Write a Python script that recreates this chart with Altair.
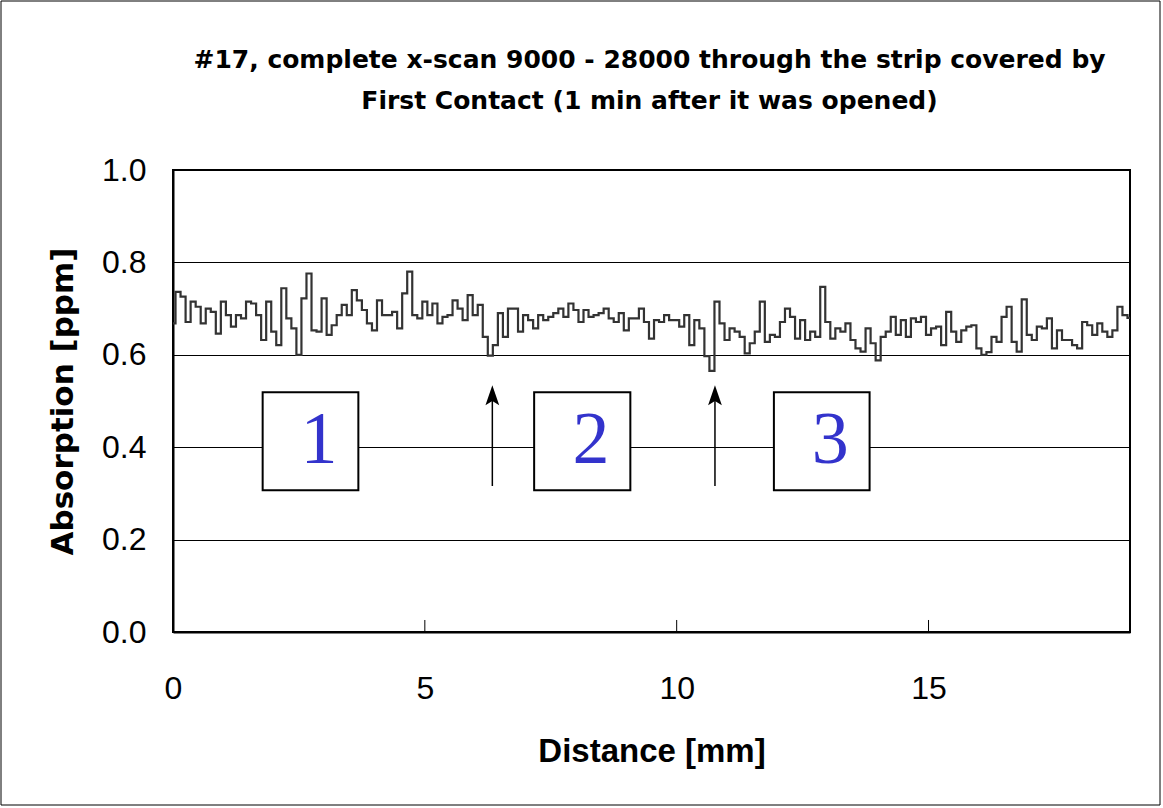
import altair as alt
import pandas as pd

# ---- data ----
absorption = [
    0.668, 0.736, 0.726, 0.671, 0.715, 0.704, 0.668, 0.700, 0.693, 0.646,
    0.715, 0.686, 0.661, 0.686, 0.679, 0.715, 0.711, 0.686, 0.632, 0.715,
    0.650, 0.621, 0.744, 0.679, 0.657, 0.600, 0.722, 0.776, 0.653, 0.650,
    0.722, 0.643, 0.664, 0.686, 0.708, 0.686, 0.740, 0.718, 0.697, 0.668,
    0.653, 0.718, 0.686, 0.686, 0.693, 0.657, 0.733, 0.780, 0.686, 0.679,
    0.715, 0.686, 0.711, 0.668, 0.682, 0.686, 0.718, 0.700, 0.675, 0.729,
    0.686, 0.708, 0.639, 0.598, 0.621, 0.690, 0.639, 0.700, 0.700, 0.650,
    0.686, 0.675, 0.657, 0.686, 0.675, 0.682, 0.690, 0.700, 0.682, 0.711,
    0.697, 0.671, 0.697, 0.682, 0.686, 0.690, 0.700, 0.679, 0.671, 0.690,
    0.653, 0.679, 0.679, 0.700, 0.671, 0.635, 0.675, 0.671, 0.686, 0.675,
    0.675, 0.661, 0.686, 0.621, 0.675, 0.657, 0.597, 0.565, 0.715, 0.668,
    0.632, 0.657, 0.650, 0.639, 0.603, 0.625, 0.650, 0.715, 0.628, 0.643,
    0.639, 0.671, 0.700, 0.682, 0.635, 0.675, 0.632, 0.650, 0.639, 0.747,
    0.671, 0.635, 0.657, 0.650, 0.668, 0.632, 0.614, 0.607, 0.657, 0.625,
    0.588, 0.639, 0.650, 0.682, 0.643, 0.675, 0.639, 0.679, 0.671, 0.682,
    0.643, 0.657, 0.661, 0.621, 0.693, 0.650, 0.628, 0.653, 0.661, 0.664,
    0.614, 0.600, 0.606, 0.639, 0.628, 0.682, 0.704, 0.628, 0.607, 0.720,
    0.643, 0.632, 0.661, 0.657, 0.679, 0.614, 0.653, 0.632, 0.632, 0.621,
    0.614, 0.671, 0.664, 0.643, 0.668, 0.650, 0.639, 0.653, 0.704, 0.686,
    0.680,
]
step_mm = 0.1
distance = [round(i * step_mm, 2) for i in range(len(absorption))]

x_ticks = [0, 5, 10, 15]
y_ticks = [0.0, 0.2, 0.4, 0.6, 0.8, 1.0]

box_labels = ["1", "2", "3"]
box_left = [1.78, 7.17, 11.93]
box_right = [3.68, 9.08, 13.83]
box_bottom = [0.307, 0.307, 0.307]
box_top = [0.519, 0.519, 0.519]
label_x = [2.90, 8.30, 13.05]
label_y = [0.413, 0.413, 0.413]

arrow_x = [6.34, 10.76]
arrow_y0 = [0.316, 0.316]
arrow_y1 = [0.505, 0.505]
arrow_head_y = [0.507, 0.507]

title_line1 = "#17, complete x-scan 9000 - 28000 through the strip covered by"
title_line2 = "First Contact (1 min after it was opened)"

W, H = 957, 462
PAD = {"left": 173, "top": 170, "right": 33, "bottom": 176}

df = pd.DataFrame({"distance": distance, "absorption": absorption})
boxes = pd.DataFrame({"x": box_left, "x2": box_right, "y": box_bottom, "y2": box_top,
                      "lx": label_x, "ly": label_y, "label": box_labels})
arrows = pd.DataFrame({"x": arrow_x, "y": arrow_y0, "y2": arrow_y1, "hy": arrow_head_y})
ticks = pd.DataFrame({"x": x_ticks[1:], "y": [0.0] * 3, "y2": [0.026] * 3})

xs = alt.Scale(domain=[0, 19], nice=False, zero=False)
ys = alt.Scale(domain=[0, 1], nice=False)

line = alt.Chart(df).mark_line(
    interpolate="step", color="#333333", strokeWidth=2.2
).encode(
    x=alt.X("distance:Q", scale=xs, axis=alt.Axis(
        values=x_ticks, format="d", title="Distance [mm]", grid=False, ticks=False,
        labelFontSize=32, labelFont="Liberation Sans", labelColor="#000",
        labelPadding=41, labelFlush=False,
        titleFont="Liberation Sans", titleFontSize=33, titleFontWeight="bold",
        titleColor="#000", titlePadding=31,
        domainColor="#000", domainWidth=2)),
    y=alt.Y("absorption:Q", scale=ys, axis=alt.Axis(
        values=y_ticks, format=".1f", title="Absorption [ppm]", grid=True,
        gridColor="#000", gridWidth=1, gridOpacity=1, ticks=False,
        labelFontSize=32, labelFont="Liberation Sans", labelColor="#000",
        labelPadding=27,
        titleFont="DejaVu Sans", titleFontSize=31, titleFontWeight="bold",
        titleColor="#000", titlePadding=22,
        domainColor="#000", domainWidth=2)),
)

tick_marks = alt.Chart(ticks).mark_rule(color="#000", strokeWidth=1).encode(
    x=alt.X("x:Q", scale=xs), y=alt.Y("y:Q", scale=ys), y2="y2:Q")

rects = alt.Chart(boxes).mark_rect(fill="white", stroke="#000", strokeWidth=2).encode(
    x=alt.X("x:Q", scale=xs), x2="x2:Q", y=alt.Y("y:Q", scale=ys), y2="y2:Q")

nums = alt.Chart(boxes).mark_text(
    font="Liberation Serif", fontSize=74, color="#3333cc", baseline="middle", align="center"
).encode(x=alt.X("lx:Q", scale=xs), y=alt.Y("ly:Q", scale=ys), text="label:N")

shafts = alt.Chart(arrows).mark_rule(color="#000", strokeWidth=1.5).encode(
    x=alt.X("x:Q", scale=xs), y=alt.Y("y:Q", scale=ys), y2="y2:Q")

heads = alt.Chart(arrows).mark_point(
    shape="M0,-1L0.55,0.6L0,0.25L-0.55,0.6Z", size=625, filled=True,
    color="#000", opacity=1, strokeWidth=0
).encode(x=alt.X("x:Q", scale=xs), y=alt.Y("hy:Q", scale=ys))

one = alt.Data(values=[{}])
frame = alt.Chart(one).mark_rect(fill=None, stroke="#000", strokeWidth=1).encode(
    x=alt.value(-172), x2=alt.value(W + 30),
    y=alt.value(-169), y2=alt.value(H + 173),
)

title_style = dict(font="DejaVu Sans", fontSize=25, fontWeight="bold", color="#000",
                   align="center", baseline="middle")
t1 = alt.Chart(one).mark_text(text=title_line1, **title_style).encode(
    x=alt.value(W / 2 - 2), y=alt.value(-110))
t2 = alt.Chart(one).mark_text(text=title_line2, **title_style).encode(
    x=alt.value(W / 2 - 2), y=alt.value(-69))

chart = alt.layer(frame, line, tick_marks, rects, nums, shafts, heads, t1, t2).properties(
    width=W, height=H,
    padding=PAD,
    autosize=alt.AutoSizeParams(type="none"),
    background="white",
).configure_view(stroke="#000", strokeWidth=2)

chart.save("out.html", embed_options={"renderer": "svg", "actions": False})
